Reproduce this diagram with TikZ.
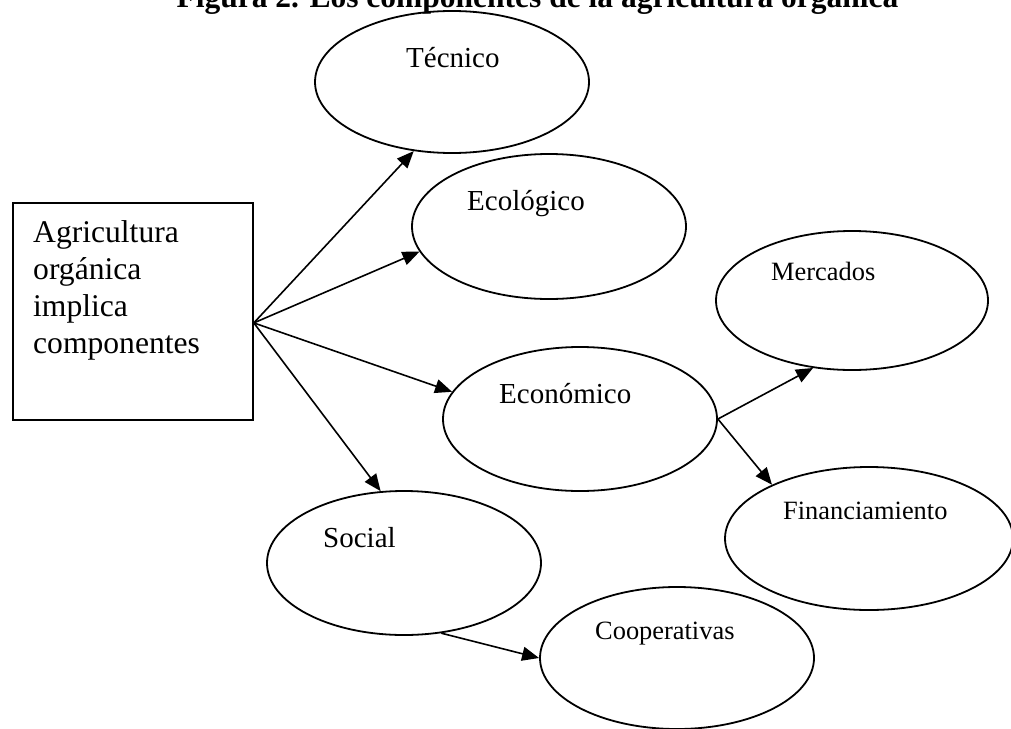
\documentclass[tikz,border=0pt]{standalone}
\usepackage{fontspec}
\setmainfont{Liberation Serif}
\usetikzlibrary{arrows.meta,shapes.geometric}

\begin{document}
\begin{tikzpicture}[x=1pt,y=-1pt,
  bubble/.style={draw, ellipse, line width=1.8pt, inner sep=0pt},
  link/.style={line width=1.6pt, -{Triangle[length=17pt,width=14pt]}},
  bigtext/.style={font=\fontsize{29}{33}\selectfont, inner sep=0pt, anchor=base west},
  smalltext/.style={font=\fontsize{26.4}{30}\selectfont, inner sep=0pt, anchor=base west}]

\clip (0,0) rectangle (1011,728);

% heading
\node[font=\bfseries\fontsize{31.5}{36}\selectfont, inner sep=0pt, anchor=base]
  (title) at (537.5,7) {Figura 2. Los componentes de la agricultura orgánica};

% source box
\node[draw, line width=1.8pt, minimum width=240pt, minimum height=217pt,
  inner sep=0pt, anchor=north west] (box) at (12,202) {};
\node[font=\fontsize{31.6}{37}\selectfont, inner sep=0pt, anchor=base west, align=left]
  (boxtext) at (33,353) {Agricultura\\orgánica\\implica\\componentes};

% components
\node[bubble, minimum width=274pt, minimum height=142pt] (tec)  at (452,82) {};
\node[bubble, minimum width=274pt, minimum height=145pt] (eco)  at (549,226.5) {};
\node[bubble, minimum width=274pt, minimum height=144pt] (econ) at (580,419) {};
\node[bubble, minimum width=272pt, minimum height=139pt] (merc) at (852,300.5) {};
\node[bubble, minimum width=288pt, minimum height=143pt] (fin)  at (869,538.5) {};
\node[bubble, minimum width=274pt, minimum height=144pt] (soc)  at (404,563) {};
\node[bubble, minimum width=274pt, minimum height=142pt] (coop) at (677,658) {};

\node[bigtext] (tecl)  at (406,67)  {Técnico};
\node[bigtext] (ecol)  at (467,210) {Ecológico};
\node[bigtext] (econl) at (499,403) {Económico};
\node[bigtext] (socl)  at (323,547) {Social};
\node[smalltext] (mercl) at (771,280) {Mercados};
\node[smalltext] (finl)  at (783,519) {Financiamiento};
\node[smalltext] (coopl) at (595,639) {Cooperativas};

% connectors
\coordinate (hub) at ([yshift=-11.5pt]box.east);
\draw[link] (hub) -- (tec.241.3);
\draw[link] (hub) -- (eco.191.6);
\draw[link] (hub) -- (econ.168.2);
\draw[link] (hub) -- (soc.108.4);
\draw[link] (econ.east) -- (merc.240.4);
\draw[link] (econ.east) -- (fin.151.7);
\draw[link] (soc.298.8) -- (coop.west);
\end{tikzpicture}
\end{document}
